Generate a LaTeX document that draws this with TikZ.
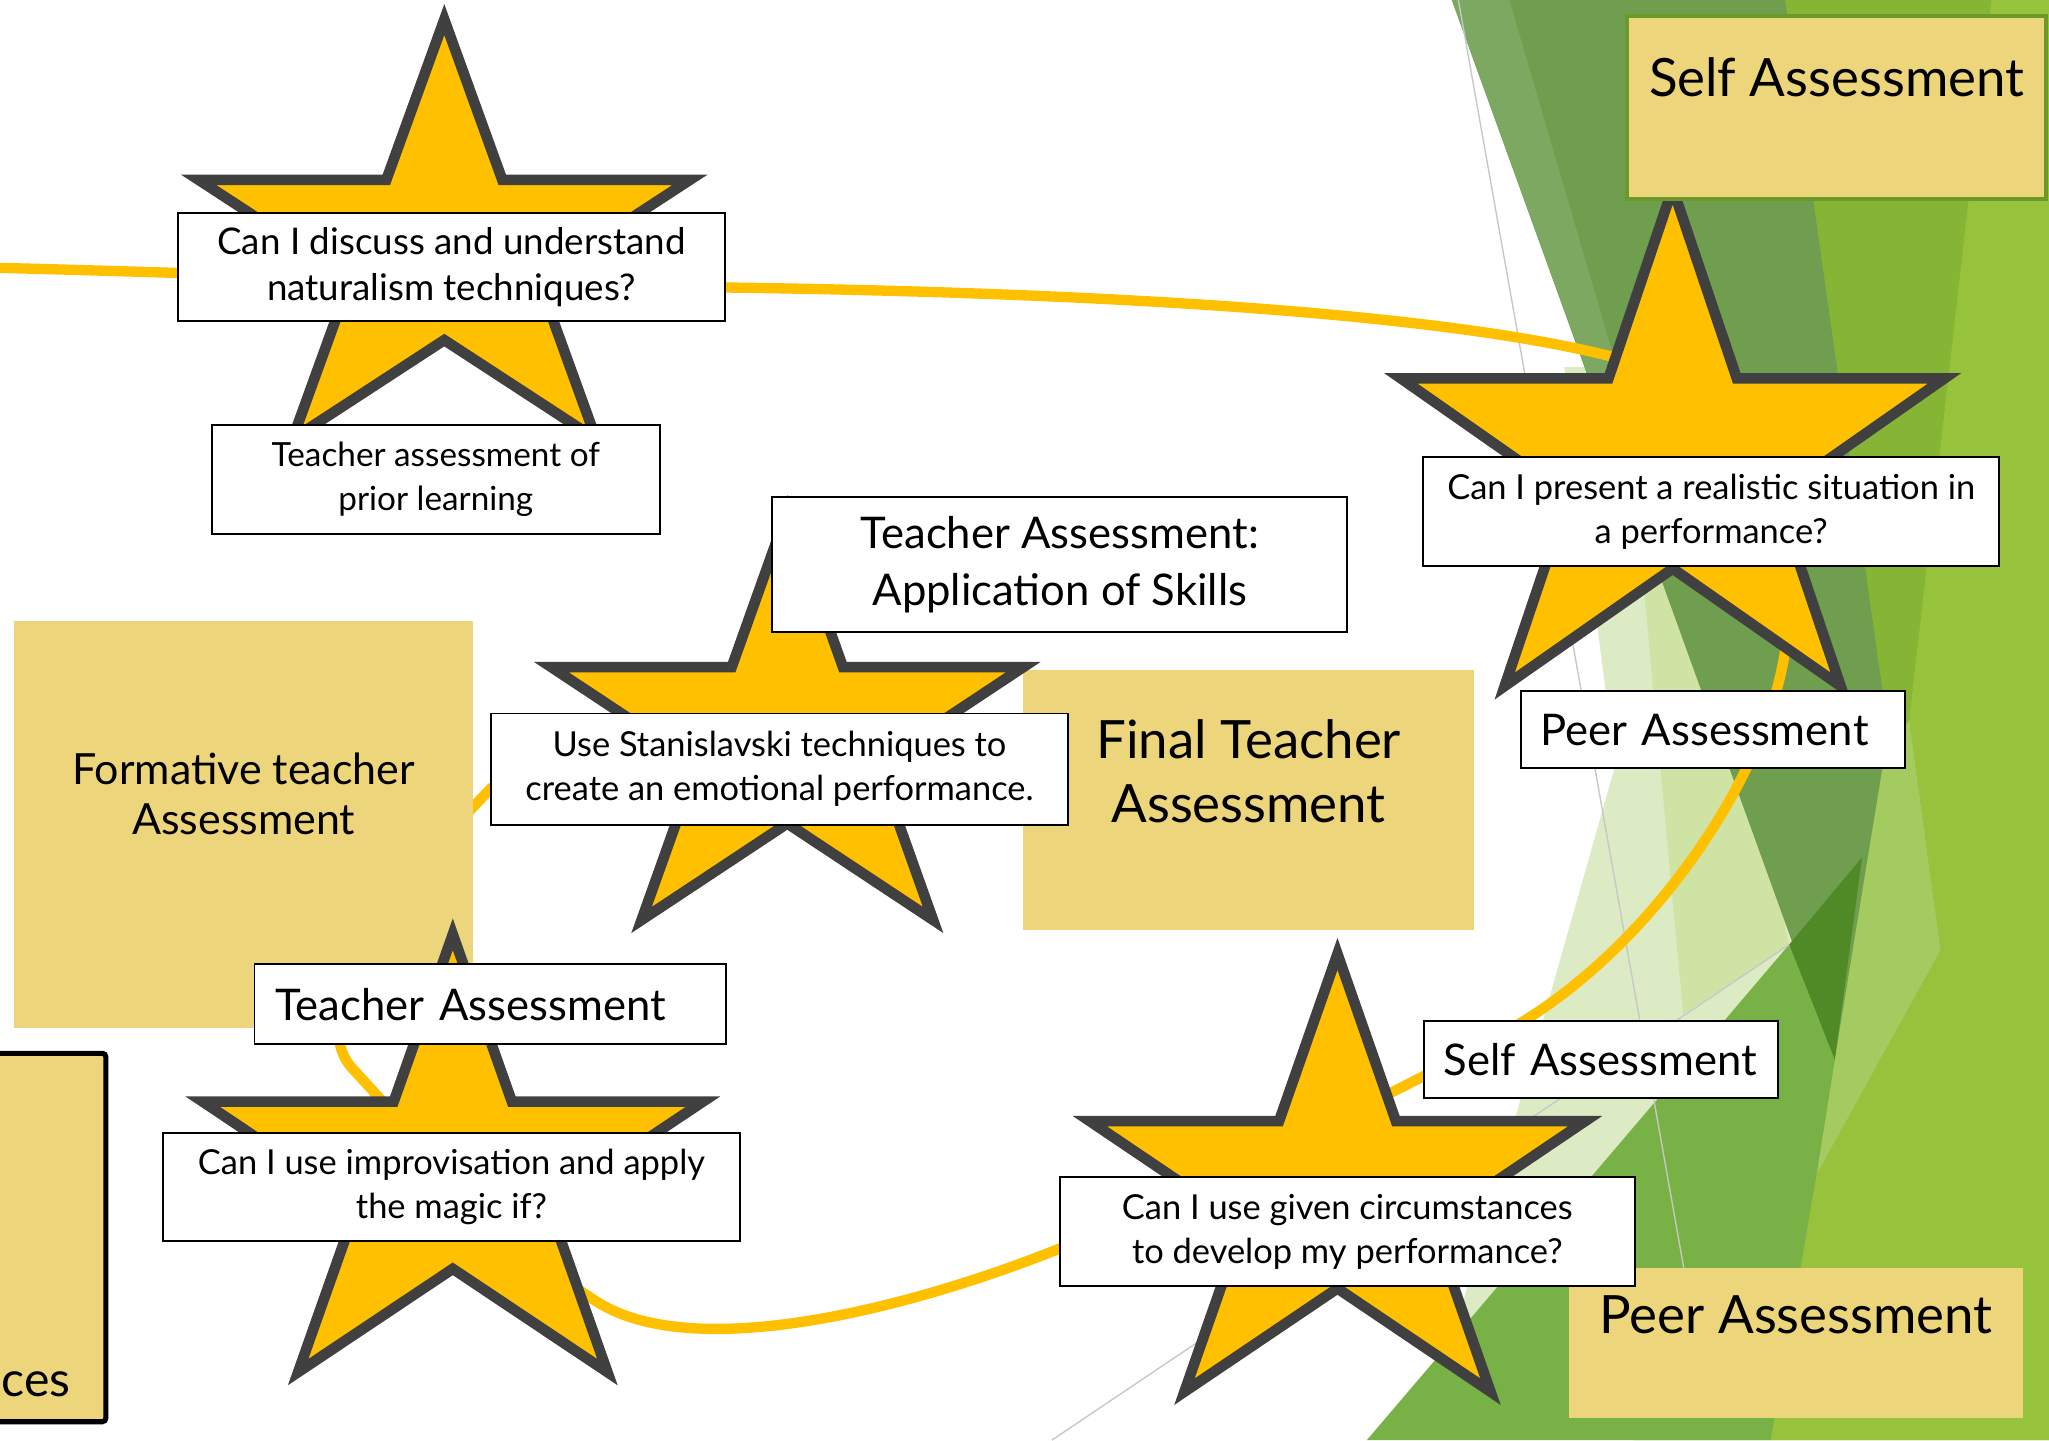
\documentclass[tikz,border=0pt]{standalone}
\usepackage{fontspec}
\setmainfont{Lato}
\definecolor{gold}{RGB}{255,192,0}
\definecolor{stargrey}{RGB}{64,64,64}
\definecolor{sand}{RGB}{237,213,123}
\definecolor{framegreen}{RGB}{107,154,42}
\definecolor{leafdark}{RGB}{111,158,78}
\definecolor{leafstrip}{RGB}{125,168,98}
\definecolor{leafmid}{RGB}{134,181,53}
\definecolor{leaflight}{RGB}{151,195,60}
\definecolor{leafstreak}{RGB}{163,203,96}
\definecolor{leafdeep}{RGB}{79,138,39}
\definecolor{leafgrass}{RGB}{120,178,70}
\definecolor{leafpale}{RGB}{221,235,197}
\definecolor{leafpaler}{RGB}{207,227,165}
\usetikzlibrary{positioning}

\begin{document}
\begin{tikzpicture}[x=0.02cm,y=-0.02cm,
        qbox/.style={draw=black,line width=0.85pt,fill=white,align=center,inner sep=0pt},
        sandbox/.style={fill=sand,inner sep=0pt},
        qtext/.style={font=\fontsize{15}{19.3}\selectfont},
        tagtext/.style={font=\fontsize{19}{25}\selectfont},
        headtext/.style={font=\fontsize{23}{28}\selectfont},
        trail/.style={draw=gold,line width=4.5pt},
        facetline/.style={draw=black!22,line width=0.6pt},
        pics/goldstar/.style={code={
            \draw[fill=gold,draw=stargrey,line width=4.6pt] (0.5,0) -- (0.618,0.382) -- (1,0.382)
                -- (0.691,0.618) -- (0.809,1) -- (0.5,0.764) -- (0.191,1) -- (0.309,0.618)
                -- (0,0.382) -- (0.382,0.382) -- cycle;
            \coordinate (-mid) at (0.5,0.55);
        }}
        ]
        \useasboundingbox (0,0) rectangle (1568,1102);
        \clip (0,0) rectangle (1568,1102);

        % the green facets on the right
        \fill[leafmid] (1340,0) -- (1568,0) -- (1568,1102) -- (1250,1102) -- cycle;
        \fill[leaflight] (1524,0) -- (1568,0) -- (1568,1102) -- (1355,1102) -- (1390,899) -- (1485,727) -- (1461,551) -- cycle;
        \fill[leafstreak] (1461,551) -- (1485,727) -- (1390,899) -- (1404,811) -- (1436,586) -- cycle;
        \fill[leafpale] (1197,281) -- (1250,281) -- (1395,790) -- (1110,1030) -- (1236,586) -- cycle;
        \fill[leafpaler] (1257,440) -- (1310,440) -- (1369,723) -- (1288,776) -- cycle;
        \fill[leafdark] (1111,0) -- (1366,0) -- (1445,560) -- (1404,811) -- cycle;
        \fill[leafstrip] (1111,0) -- (1155,0) -- (1250,325) -- (1229,325) -- cycle;
        \fill[leafdeep] (1425,656) -- (1369,723) -- (1404,811) -- cycle;
        \fill[leafgrass] (1046,1102) -- (1369,723) -- (1404,811) -- (1390,899) -- (1355,1102) -- cycle;
        \draw[facetline] (1116,0) -- (1292,990);
        \draw[facetline] (805,1102) -- (1369,723);

        % the golden trail
        \coordinate (t0) at (0,205);
        \coordinate (t1) at (555,220);
        \coordinate (t2) at (1230,272);
        \coordinate (t3) at (1368,480);
        \coordinate (t4) at (1160,785);
        \coordinate (t5) at (812,955);
        \coordinate (t6) at (455,995);
        \coordinate (t7) at (270,818);
        \coordinate (t8) at (376,603);
        \coordinate (t9) at (602,563);
        \draw[trail] (t0) .. controls (200,210) and (400,219) .. (t1)
            .. controls (850,224) and (1100,240) .. (t2)
            .. controls (1320,295) and (1375,380) .. (t3)
            .. controls (1362,580) and (1270,720) .. (t4)
            .. controls (1070,838) and (900,915) .. (t5)
            .. controls (700,1000) and (530,1045) .. (t6)
            .. controls (390,955) and (300,850) .. (t7)
            .. controls (225,770) and (330,650) .. (t8)
            .. controls (420,575) and (540,560) .. (t9);

        % the sand coloured headings
        \node[sandbox,minimum width=7.02cm,minimum height=6.24cm,
            label={[font=\fontsize{18.7}{22}\selectfont,align=center,yshift=0.47cm]center:Formative teacher\\Assessment}] (formative) at (186.5,631) {};
        \node[sandbox,minimum width=6.9cm,minimum height=3.98cm,
            label={[headtext,align=center,yshift=0.45cm]center:Final Teacher\\Assessment}] (finalHead) at (955.5,612.5) {};
        \node[sandbox,minimum width=6.94cm,minimum height=2.3cm,
            label={[headtext,anchor=north,yshift=-0.32cm]north:Peer Assessment}] (peerHead) at (1374.5,1027.5) {};
        \node[sandbox,draw=black,line width=2.2pt,rounded corners=1.5pt,minimum width=2.02cm,minimum height=5.64cm] (leftHead) at (30.5,947) {};
        \node[font=\fontsize{21}{25}\selectfont,anchor=base west,inner sep=0pt] (leftTag) at (1,1069) {ces};

        % the stars
        \pic[shift={(152,15)},xscale=376,yscale=321] (s1) {goldstar};
        \pic[shift={(422,391)},xscale=361,yscale=313] (s2) {goldstar};
        \pic[shift={(1072,144)},xscale=416,yscale=381] (s3) {goldstar};
        \pic[shift={(155,715)},xscale=383,yscale=335] (s4) {goldstar};
        \pic[shift={(834,730)},xscale=379,yscale=335] (s5) {goldstar};

        \node[sandbox,draw=framegreen,line width=1.7pt,minimum width=6.42cm,minimum height=2.8cm,
            label={[font=\fontsize{23}{28}\selectfont,anchor=north,yshift=-0.54cm]north:Self Assessment}] (selfHead) at (1405.5,82) {};

        % the question boxes
        \node[qbox,font=\fontsize{16}{19.8}\selectfont,minimum width=8.38cm,minimum height=1.66cm] (naturalism) at (345.5,204.5) {Can I discuss and understand\\naturalism techniques?};
        \node[qbox,font=\fontsize{14.5}{19.3}\selectfont,minimum width=6.86cm,minimum height=1.68cm] (prior) at (333.5,367) {Teacher assessment of\\prior learning};
        \node[qbox,tagtext,minimum width=8.8cm,minimum height=2.08cm] (skills) at (811,432) {Teacher Assessment:\\Application of Skills};
        \node[qbox,qtext,minimum width=8.82cm,minimum height=1.7cm] (stanislavski) at (596.5,588.5) {Use Stanislavski techniques to\\create an emotional performance.};
        \node[qbox,qtext,minimum width=8.82cm,minimum height=1.66cm] (realistic) at (1309.5,391.5) {Can I present a realistic situation in\\a performance?};
        \node[qbox,qtext,minimum width=8.82cm,minimum height=1.66cm] (magicif) at (345.5,908.5) {Can I use improvisation and apply\\the magic if?};
        \node[qbox,qtext,minimum width=8.8cm,minimum height=1.66cm] (circumstances) at (1031,942.5) {Can I use given circumstances\\to develop my performance?};

        % the assessment tags
        \node[qbox,tagtext,anchor=west,align=left,inner xsep=0.3cm,text width=5.28cm,minimum height=1.18cm] (peerTag) at (1163,558.5) {Peer Assessment};
        \node[qbox,tagtext,anchor=west,align=left,inner xsep=0.32cm,text width=6.58cm,minimum height=1.22cm] (teacherTag) at (194,768.5) {Teacher Assessment};
        \node[qbox,tagtext,anchor=west,align=left,inner xsep=0.3cm,text width=4.82cm,minimum height=1.18cm] (selfTag) at (1089,810.5) {Self Assessment};
\end{tikzpicture}
\end{document}
